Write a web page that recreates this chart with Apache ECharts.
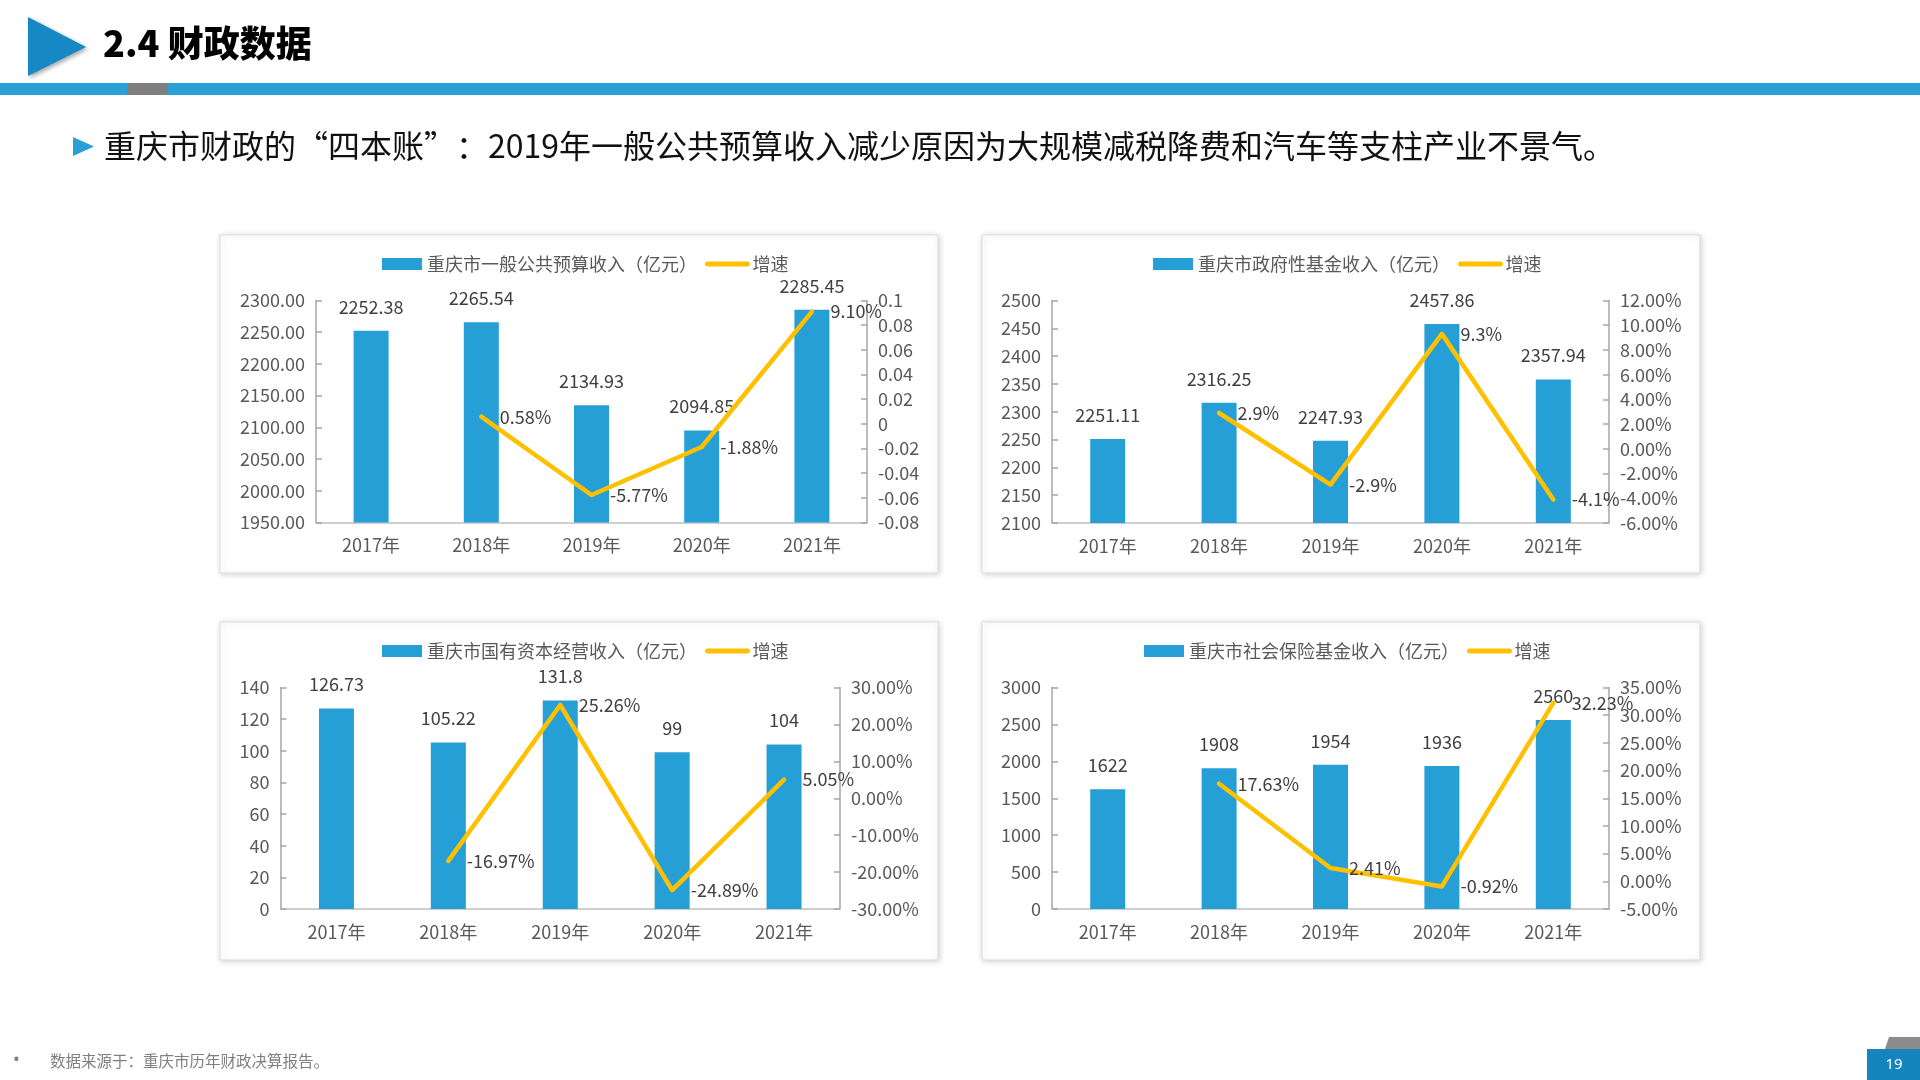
<!DOCTYPE html>
<html>
<head>
<meta charset="utf-8">
<style>
html,body{margin:0;padding:0;background:#fff;}
#c{width:1920px;height:1080px;}
</style>
<script src="https://cdn.jsdelivr.net/npm/echarts@6/dist/echarts.min.js"></script>
</head>
<body>
<div id="c"></div>
<script>
// ---- data ----
const years = ['2017年', '2018年', '2019年', '2020年', '2021年'];

const budgetName = '重庆市一般公共预算收入（亿元）';
const budgetIncome = [2252.38, 2265.54, 2134.93, 2094.85, 2285.45];
const budgetGrowth = [null, 0.58, -5.77, -1.88, 9.10];      // %

const fundName = '重庆市政府性基金收入（亿元）';
const fundIncome = [2251.11, 2316.25, 2247.93, 2457.86, 2357.94];
const fundGrowth = [null, 2.9, -2.9, 9.3, -4.1];            // %

const capitalName = '重庆市国有资本经营收入（亿元）';
const capitalIncome = [126.73, 105.22, 131.8, 99, 104];
const capitalGrowth = [null, -16.97, 25.26, -24.89, 5.05];  // %

const socialName = '重庆市社会保险基金收入（亿元）';
const socialIncome = [1622, 1908, 1954, 1936, 2560];
const socialGrowth = [null, 17.63, 2.41, -0.92, 32.23];     // %

const growthName = '增速';

const titleText = '2.4 财政数据';
const subtitleText = '重庆市财政的“四本账”：2019年一般公共预算收入减少原因为大规模减税降费和汽车等支柱产业不景气。';
const sourceText = '数据来源于：重庆市历年财政决算报告。';
const pageNo = '19';

// ---- styles ----
const FONT = "'Noto Sans CJK SC', 'Noto Sans', sans-serif";
const BAR = '#259FD6';
const LINE = '#FFC000';
const AXIS = '#A6A6A6';
const LABEL = '#595959';
const DLABEL = '#404040';

const panels = [
  {name: budgetName, bars: budgetIncome, growth: budgetGrowth,
   grid: {left: 316, top: 300.5, width: 551, height: 222},
   legendLeft: 377, legendTop: 250,
   lmin: 1950, lmax: 2300, lint: 50, lfmt: v => v.toFixed(2),
   rmin: -8, rmax: 10, rint: 2, rfmt: v => String(Number((v / 100).toFixed(2))),
   gdec: 2},
  {name: fundName, bars: fundIncome, growth: fundGrowth,
   grid: {left: 1052, top: 300.5, width: 557, height: 222.5},
   legendLeft: 1148, legendTop: 250,
   lmin: 2100, lmax: 2500, lint: 50, lfmt: v => String(v),
   rmin: -6, rmax: 12, rint: 2, rfmt: v => v.toFixed(2) + '%',
   gdec: 1},
  {name: capitalName, bars: capitalIncome, growth: capitalGrowth,
   grid: {left: 280.5, top: 687.5, width: 559.5, height: 221.5},
   legendLeft: 377, legendTop: 637,
   lmin: 0, lmax: 140, lint: 20, lfmt: v => String(v),
   rmin: -30, rmax: 30, rint: 10, rfmt: v => v.toFixed(2) + '%',
   gdec: 2},
  {name: socialName, bars: socialIncome, growth: socialGrowth,
   grid: {left: 1052, top: 687.5, width: 557, height: 221.5},
   legendLeft: 1139, legendTop: 637,
   lmin: 0, lmax: 3000, lint: 500, lfmt: v => String(v),
   rmin: -5, rmax: 35, rint: 5, rfmt: v => v.toFixed(2) + '%',
   gdec: 2}
];

const grids = [], xAxes = [], yAxes = [], series = [], legends = [];
panels.forEach((p, i) => {
  grids.push(Object.assign({containLabel: false}, p.grid));
  xAxes.push({
    type: 'category', gridIndex: i, data: years,
    axisLine: {onZero: false, lineStyle: {color: '#BFBFBF', width: 1.5}},
    axisTick: {show: false},
    axisLabel: {color: LABEL, fontSize: 18, fontFamily: FONT, margin: 14}
  });
  const yBase = {
    type: 'value', gridIndex: i, splitLine: {show: false},
    axisLine: {show: true, lineStyle: {color: AXIS, width: 1.5}},
    axisTick: {show: true, inside: true, length: 6, lineStyle: {color: AXIS, width: 1.5}}
  };
  yAxes.push(Object.assign({}, yBase, {
    position: 'left', min: p.lmin, max: p.lmax, interval: p.lint,
    axisLabel: {color: LABEL, fontSize: 18, fontFamily: FONT, margin: 11, formatter: p.lfmt}
  }));
  yAxes.push(Object.assign({}, yBase, {
    position: 'right', min: p.rmin, max: p.rmax, interval: p.rint,
    axisLabel: {color: LABEL, fontSize: 18, fontFamily: FONT, margin: 11, formatter: p.rfmt}
  }));
  series.push({
    type: 'bar', name: p.name, xAxisIndex: i, yAxisIndex: i * 2,
    data: p.bars, barWidth: 35,
    itemStyle: {color: BAR},
    label: {show: true, position: 'top', distance: 15, color: DLABEL, fontSize: 18, fontFamily: FONT},
    z: 2
  });
  const dec = p.gdec;
  series.push({
    type: 'line', name: growthName, xAxisIndex: i, yAxisIndex: i * 2 + 1,
    data: p.growth, symbol: 'circle', symbolSize: 1,
    itemStyle: {color: LINE},
    lineStyle: {color: LINE, width: 4.5, cap: 'round', join: 'round'},
    label: {show: true, position: 'right', distance: 18, color: DLABEL, fontSize: 18, fontFamily: FONT,
            formatter: d => d.value == null ? '' : Number(d.value).toFixed(dec) + '%'},
    z: 4
  });
  legends.push({
    left: p.legendLeft, top: p.legendTop, itemWidth: 40, itemHeight: 12, itemGap: 8,
    data: [
      {name: p.name, icon: 'rect'},
      {name: growthName, itemStyle: {opacity: 0}, lineStyle: {width: 5, color: LINE}}
    ],
    textStyle: {color: LABEL, fontSize: 18, fontFamily: FONT},
    selectedMode: false
  });
});

// ---- decorations ----
const panelRects = [
  [220, 235], [982, 235], [220, 622], [982, 622]
].map(([x, y]) => ({
  type: 'rect', z: -10,
  shape: {x: x, y: y, width: 718, height: 338},
  style: {fill: '#fff', stroke: '#DDDDDD', lineWidth: 1,
          shadowBlur: 6, shadowColor: 'rgba(0,0,0,0.18)', shadowOffsetX: 1, shadowOffsetY: 1}
}));

const graphics = panelRects.concat([
  {type: 'polygon', z: -5, shape: {points: [[28, 17], [86, 47], [28, 76]]},
   style: {fill: '#1688C4', shadowBlur: 4, shadowColor: 'rgba(0,0,0,0.35)', shadowOffsetX: 2, shadowOffsetY: 2}},
  {type: 'text', z: -5, x: 103, y: 43,
   style: {text: titleText, fill: '#000', font: "900 36px 'Noto Sans CJK SC', sans-serif", textVerticalAlign: 'middle'}},
  {type: 'rect', z: -5, shape: {x: 0, y: 83, width: 1920, height: 12}, style: {fill: '#2A9FD6'}},
  {type: 'rect', z: -4, shape: {x: 127, y: 83, width: 41, height: 12}, style: {fill: '#7F7F7F'}},
  {type: 'polygon', z: -5, shape: {points: [[73, 137], [94, 146.5], [73, 156]]}, style: {fill: '#2A9FD6'}},
  {type: 'text', z: -5, x: 104, y: 146,
   style: {text: subtitleText, fill: '#111', font: "32px 'Noto Sans CJK SC', sans-serif", textVerticalAlign: 'middle'}},
  {type: 'text', z: -5, x: 13, y: 1060,
   style: {text: '•', fill: '#7F7F7F', font: "18px 'Noto Sans', sans-serif", textVerticalAlign: 'middle'}},
  {type: 'text', z: -5, x: 50, y: 1061,
   style: {text: sourceText, fill: '#7F7F7F', font: "15.5px 'Noto Sans CJK SC', sans-serif", textVerticalAlign: 'middle'}},
  {type: 'polygon', z: -5, shape: {points: [[1889, 1037], [1920, 1037], [1920, 1049], [1885, 1049]]}, style: {fill: '#8C8C8C'}},
  {type: 'rect', z: -4, shape: {x: 1867, y: 1049, width: 53, height: 31}, style: {fill: '#1585C0'}},
  {type: 'text', z: -3, x: 1894, y: 1065,
   style: {text: pageNo, fill: '#fff', font: "15px 'Noto Sans', sans-serif", textAlign: 'center', textVerticalAlign: 'middle'}}
]);

const chart = echarts.init(document.getElementById('c'), null, {renderer: 'canvas'});
chart.setOption({
  animation: false,
  backgroundColor: '#fff',
  textStyle: {fontFamily: FONT},
  grid: grids, xAxis: xAxes, yAxis: yAxes, series: series, legend: legends,
  graphic: {elements: graphics}
});
</script>
</body>
</html>
